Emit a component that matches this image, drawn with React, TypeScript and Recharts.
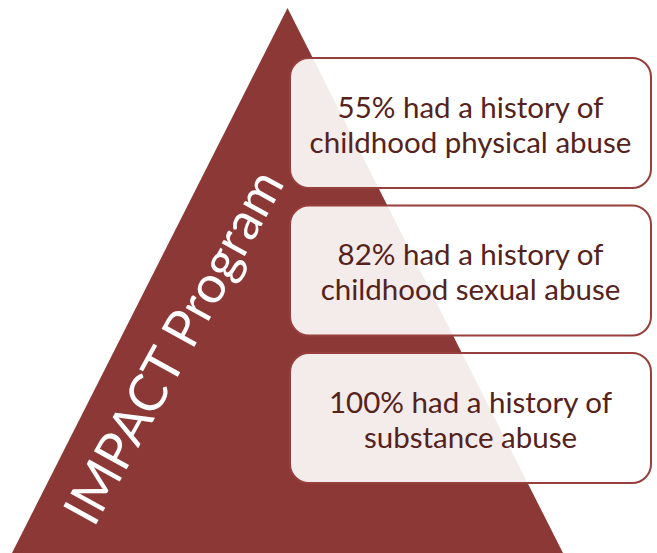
import React from "react";
import {
  ComposedChart,
  Area,
  XAxis,
  YAxis,
  ReferenceArea,
  ReferenceDot,
} from "recharts";

// pyramid outline, in chart units (x across, h = height above the bottom edge)
const pyramidX = [12, 287.5, 563];
const pyramidH = [0, 545, 0];

const programName = "IMPACT Program";
const shares = ["55%", "82%", "100%"];
const histories = [
  "childhood physical abuse",
  "childhood sexual abuse",
  "substance abuse",
];

const W = 657;
const H = 553;
const RED = "#8c3836";

const pyramid = pyramidX.map((x, i) => ({ x, h: pyramidH[i] }));

const boxLeft = 290;
const boxRight = 651;
const boxTop = 58;
const boxStep = 147.5;
const boxHeight = 130;

function StatBox(props: any) {
  const { x, y, width, height, line1, line2 } = props;
  const cx = x + width / 2;
  const cy = y + height / 2;
  return (
    <g>
      <rect
        x={x}
        y={y}
        width={width}
        height={height}
        rx={19}
        ry={19}
        fill="#ffffff"
        fillOpacity={0.9}
        stroke="#963f3d"
        strokeWidth={2}
      />
      <text
        x={cx}
        y={cy - 17}
        textAnchor="middle"
        dominantBaseline="central"
        fontFamily="Lato, 'Open Sans', sans-serif"
        fontSize={29.5}
        fill="#55221c"
      >
        {line1}
      </text>
      <text
        x={cx}
        y={cy + 18}
        textAnchor="middle"
        dominantBaseline="central"
        fontFamily="Lato, 'Open Sans', sans-serif"
        fontSize={29.5}
        fill="#55221c"
      >
        {line2}
      </text>
    </g>
  );
}

function ProgramLabel(props: any) {
  const { cx, cy } = props;
  return (
    <text
      x={cx}
      y={cy}
      textAnchor="middle"
      dominantBaseline="central"
      transform={`rotate(-61 ${cx} ${cy})`}
      fontFamily="Lato, 'Open Sans', sans-serif"
      fontSize={52}
      fill="#ffffff"
    >
      {programName}
    </text>
  );
}

export default function App() {
  return (
    <div style={{ position: "fixed", left: 0, top: 0, background: "#fff" }}>
      <ComposedChart
        width={W}
        height={H}
        data={pyramid}
        margin={{ top: 0, right: 0, bottom: 0, left: 0 }}
      >
        <XAxis dataKey="x" type="number" domain={[0, W]} hide />
        <YAxis type="number" domain={[0, H]} hide />
        <Area
          type="linear"
          dataKey="h"
          stroke="none"
          fill={RED}
          fillOpacity={1}
          dot={false}
          activeDot={false}
          isAnimationActive={false}
        />
        <ReferenceDot
          x={172}
          y={H - 346}
          r={0}
          shape={(p: any) => <ProgramLabel {...p} />}
          zIndex={1500}
        />
        {shares.map((s, i) => {
          const top = H - (boxTop + i * boxStep);
          return (
            <ReferenceArea
              key={s}
              x1={boxLeft}
              x2={boxRight}
              y1={top - boxHeight}
              y2={top}
              zIndex={1500}
              shape={(p: any) => (
                <StatBox
                  {...p}
                  line1={`${s} had a history of`}
                  line2={histories[i]}
                />
              )}
            />
          );
        })}
      </ComposedChart>
    </div>
  );
}
